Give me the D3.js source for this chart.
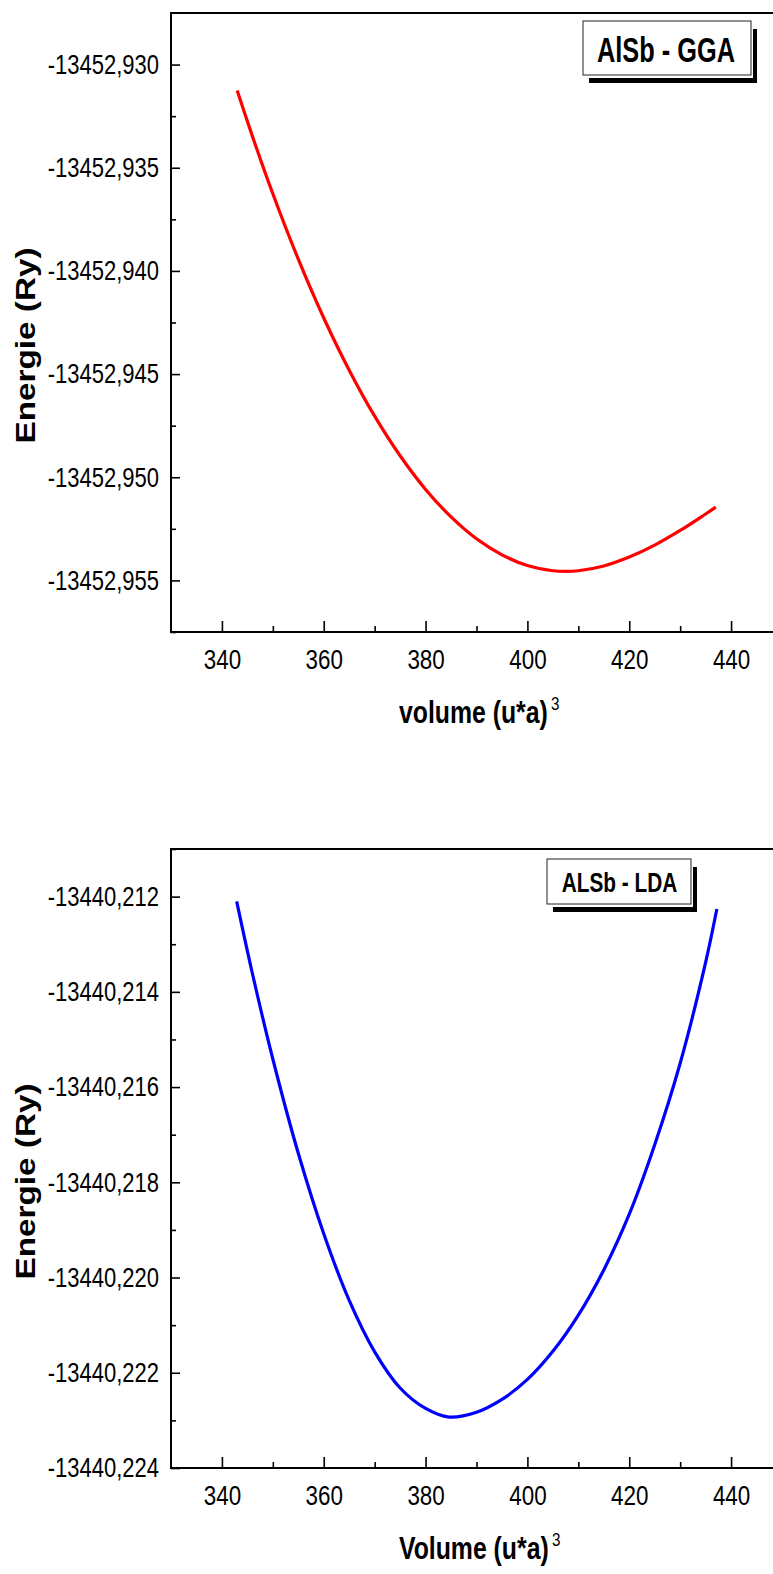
<!DOCTYPE html>
<html><head><meta charset="utf-8">
<script src="https://cdn.jsdelivr.net/npm/d3@7"></script>
<style>body{margin:0;background:#fff} svg{display:block}</style>
</head><body>
<svg id="c" width="773" height="1574"></svg>
<script>
// ---- data ----
const ggaVolume = [343, 346, 350, 355, 360, 365, 370, 375, 380, 385, 390, 395, 400, 405, 407.5, 410, 415, 420, 425, 430, 435, 437];
const ggaEnergy = [-13452.93126, -13452.93348, -13452.93626, -13452.93943, -13452.94228, -13452.94481, -13452.94704, -13452.94896, -13452.95059, -13452.95192, -13452.95298, -13452.95376, -13452.95428, -13452.95453, -13452.95456, -13452.95453, -13452.95430, -13452.95387, -13452.95329, -13452.95258, -13452.95178, -13452.95145];
const ldaVolume = [342.9, 346, 350, 355, 360, 365, 370, 375, 380, 384.6, 390, 395, 400, 405, 410, 415, 420, 425, 430, 435, 437.2];
const ldaEnergy = [-13440.21210, -13440.21362, -13440.21541, -13440.21739, -13440.21908, -13440.22048, -13440.22156, -13440.22232, -13440.22275, -13440.22293, -13440.22283, -13440.22256, -13440.22214, -13440.22155, -13440.22079, -13440.21984, -13440.21867, -13440.21721, -13440.21550, -13440.21338, -13440.21226];
const xTicks = [340, 360, 380, 400, 420, 440];
const xMinorTicks = [350, 370, 390, 410, 430];
const ggaYTicks = [-13452.930, -13452.935, -13452.940, -13452.945, -13452.950, -13452.955];
const ggaYMinor = [-13452.9325, -13452.9375, -13452.9425, -13452.9475, -13452.9525, -13452.9575];
const ldaYTicks = [-13440.212, -13440.214, -13440.216, -13440.218, -13440.220, -13440.222, -13440.224];
const ldaYMinor = [-13440.211, -13440.213, -13440.215, -13440.217, -13440.219, -13440.221, -13440.223];
const xDomain = [330, 450];
const yTitle = "Energie (Ry)";
const xTitles = ["volume (u*a)", "Volume (u*a)"];
const legends = ["AlSb - GGA", "ALSb - LDA"];

const panels = [
  {vol: ggaVolume, en: ggaEnergy, color: "#ff0000", top: 13, bottom: 632,
   yDomain: [-13452.9575, -13452.9275], yTicks: ggaYTicks, yMinor: ggaYMinor,
   xTitle: xTitles[0], legend: legends[0],
   box: {x: 583, y: 21, w: 168, h: 54}, fs: 35, lsx: 0.724, lcx: 666, lby: 62},
  {vol: ldaVolume, en: ldaEnergy, color: "#0000ff", top: 849, bottom: 1468,
   yDomain: [-13440.224, -13440.211], yTicks: ldaYTicks, yMinor: ldaYMinor,
   xTitle: xTitles[1], legend: legends[1],
   box: {x: 547, y: 859, w: 144, h: 45}, fs: 28, lsx: 0.743, lcx: 619.5, lby: 892}
];

const svg = d3.select("#c");
const left = 171, right = 782;
const font = "'Liberation Sans',Arial,sans-serif";
const SX = 0.8; // horizontal squeeze to mimic a narrow face
const fmt = v => d3.format(".3f")(v).replace(".", ",").replace("\u2212", "-");

panels.forEach(p => {
  const x = d3.scaleLinear().domain(xDomain).range([left, right]);
  const y = d3.scaleLinear().domain(p.yDomain).range([p.bottom, p.top]);
  const g = svg.append("g");

  // minor ticks x
  g.append("g").attr("transform", `translate(0,${p.bottom})`)
    .call(d3.axisBottom(x).tickValues(xMinorTicks).tickSize(-6).tickSizeOuter(0).tickFormat(""))
    .call(a => a.select(".domain").remove())
    .selectAll("line").attr("stroke", "#000").attr("stroke-width", 1.6);
  // major ticks x
  const ax = g.append("g").attr("transform", `translate(0,${p.bottom})`)
    .call(d3.axisBottom(x).tickValues(xTicks).tickSize(-11).tickSizeOuter(0).tickPadding(17).tickFormat(d3.format("d")));
  ax.select(".domain").remove();
  ax.selectAll("line").attr("stroke", "#000").attr("stroke-width", 1.6);
  ax.selectAll("text").attr("fill", "#000").style("font-family", font).style("font-size", "28px")
    .attr("transform", `scale(${SX},1)`);

  // minor ticks y
  g.append("g").attr("transform", `translate(${left},0)`)
    .call(d3.axisLeft(y).tickValues(p.yMinor).tickSize(-5).tickSizeOuter(0).tickFormat(""))
    .call(a => a.select(".domain").remove())
    .selectAll("line").attr("stroke", "#000").attr("stroke-width", 1.6);
  const ay = g.append("g").attr("transform", `translate(${left},0)`)
    .call(d3.axisLeft(y).tickValues(p.yTicks).tickSize(-9).tickSizeOuter(0).tickPadding(12).tickFormat(fmt));
  ay.select(".domain").remove();
  ay.selectAll("line").attr("stroke", "#000").attr("stroke-width", 1.6);
  ay.selectAll("text").attr("fill", "#000").style("font-family", font).style("font-size", "27.5px")
    .attr("x", -12 / SX).attr("transform", `scale(${SX},1)`);

  // frame
  g.append("rect").attr("x", left).attr("y", p.top).attr("width", right - left).attr("height", p.bottom - p.top)
    .attr("fill", "none").attr("stroke", "#000").attr("stroke-width", 2);

  // curve
  const pts = p.vol.map((v, i) => [v, p.en[i]]);
  g.append("path").datum(pts)
    .attr("d", d3.line().x(d => x(d[0])).y(d => y(d[1])).curve(d3.curveCatmullRom.alpha(0.5)))
    .attr("fill", "none").attr("stroke", p.color).attr("stroke-width", 3.2);

  // legend with shadow
  const b = p.box;
  g.append("rect").attr("x", b.x + b.w + 2).attr("y", b.y + 8).attr("width", 4).attr("height", b.h)
    .attr("fill", "#000");
  g.append("rect").attr("x", b.x + 6).attr("y", b.y + b.h + 3).attr("width", b.w).attr("height", 5)
    .attr("fill", "#000");
  g.append("rect").attr("x", b.x).attr("y", b.y).attr("width", b.w).attr("height", b.h)
    .attr("fill", "#fff").attr("stroke", "#222").attr("stroke-width", 1);
  g.append("text").attr("transform", `translate(${p.lcx},${p.lby}) scale(${p.lsx},1)`)
    .attr("text-anchor", "middle")
    .style("font-family", font).style("font-weight", "bold").style("font-size", p.fs + "px")
    .text(p.legend);

  // x title
  const t = g.append("text").attr("transform", `translate(399,${p.bottom + 91}) scale(${SX},1)`)
    .attr("text-anchor", "start")
    .style("font-family", font).style("font-weight", "bold").style("font-size", "31px");
  t.append("tspan").text(p.xTitle);
  t.append("tspan").attr("dx", 4).attr("dy", -13).style("font-size", "19px").style("font-weight", "normal").text("3");

  // y title
  g.append("text").attr("transform", `translate(35,${(p.top + p.bottom) / 2 + 23}) rotate(-90)`)
    .attr("text-anchor", "middle").attr("textLength", 196).attr("lengthAdjust", "spacingAndGlyphs")
    .style("font-family", font).style("font-weight", "bold").style("font-size", "28px")
    .text(yTitle);
});
</script>
</body></html>
